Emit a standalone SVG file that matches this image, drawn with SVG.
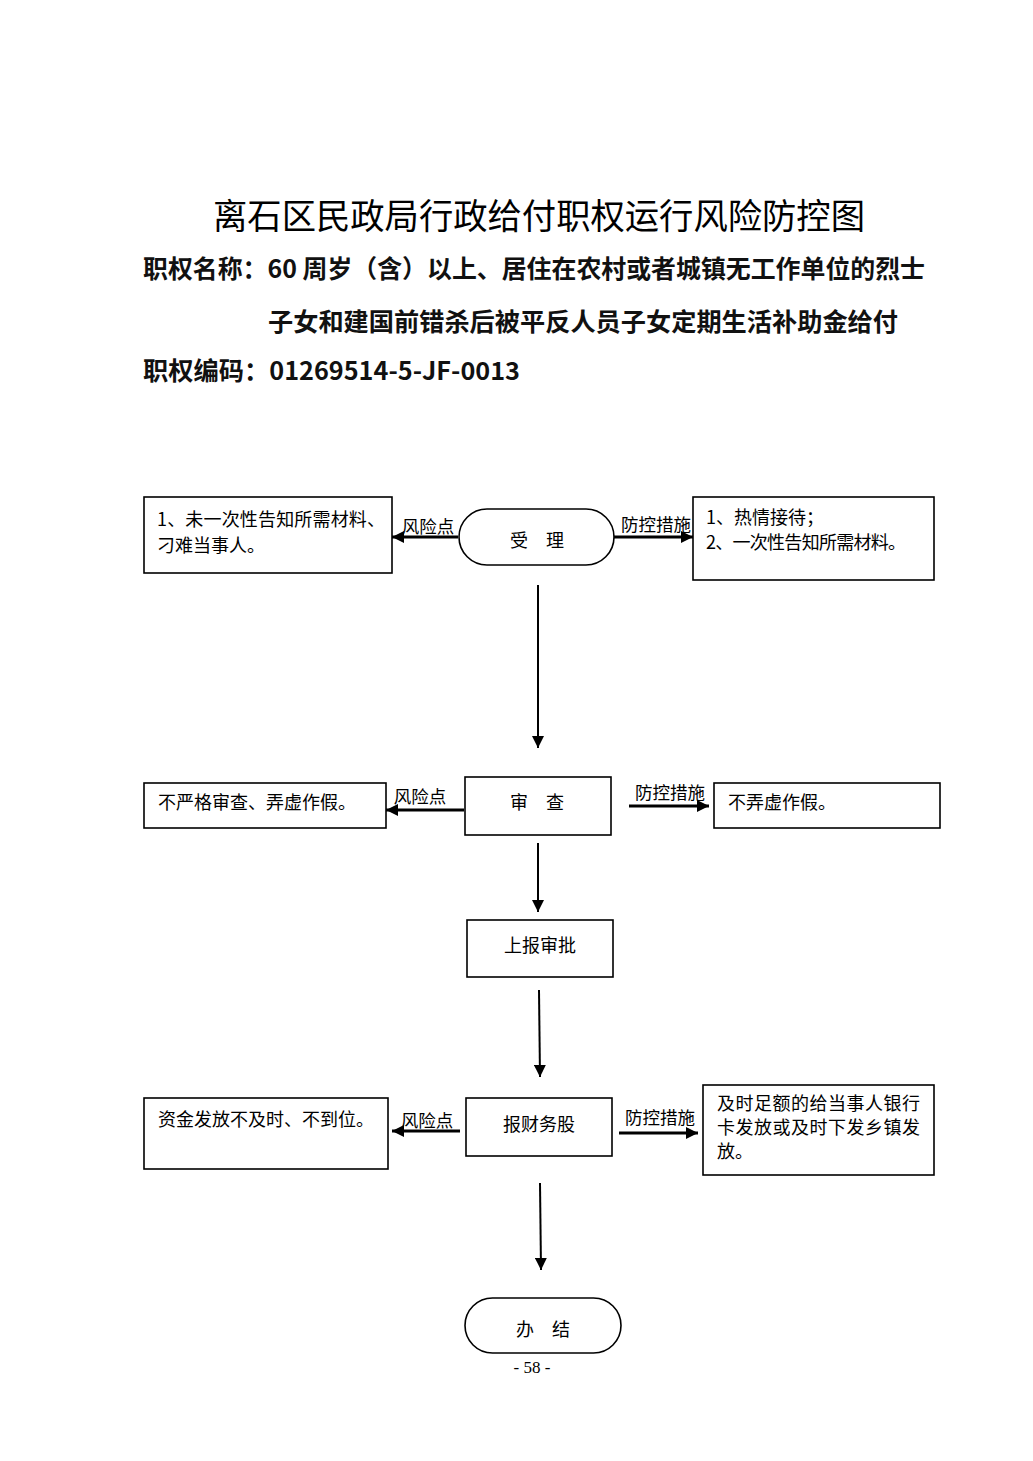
<svg xmlns="http://www.w3.org/2000/svg" width="1033" height="1461" viewBox="0 0 1033 1461">
<style>
.title{font-family:"Noto Sans CJK SC","Liberation Sans",sans-serif;font-size:35px;fill:#000}
.head{font-family:"Noto Sans CJK SC","Liberation Sans",sans-serif;font-size:25px;font-weight:bold;fill:#111}
.t{font-family:"Noto Sans CJK SC","Liberation Sans",sans-serif;font-size:18px;fill:#000}
.lbl{font-family:"Noto Sans CJK SC","Liberation Sans",sans-serif;font-size:17.5px;fill:#000}
.box{fill:#fff;stroke:#000;stroke-width:1.6}
.ln{stroke:#000;stroke-width:2;fill:none}
.hl{stroke:#000;stroke-width:3;fill:none}
.pg{font-family:"Liberation Serif",serif;font-size:17px;fill:#000}
</style>
<defs>
<marker id="ah" viewBox="0 0 10 10" refX="10" refY="5" markerWidth="6" markerHeight="6" markerUnits="strokeWidth" orient="auto">
<path d="M0,0 L10,5 L0,10 z" fill="#000"/>
</marker>
<marker id="ahs" viewBox="0 0 10 10" refX="10" refY="5" markerWidth="4" markerHeight="4" markerUnits="strokeWidth" orient="auto">
<path d="M0,0 L10,5 L0,10 z" fill="#000"/>
</marker>
</defs>
<rect width="1033" height="1461" fill="#fff"/>

<g id="header">
<text class="title" x="539" y="229" text-anchor="middle" textLength="652" lengthAdjust="spacingAndGlyphs">离石区民政局行政给付职权运行风险防控图</text>
<text class="head" x="143" y="278" textLength="782" lengthAdjust="spacingAndGlyphs">职权名称：60 周岁（含）以上、居住在农村或者城镇无工作单位的烈士</text>
<text class="head" x="268" y="331" textLength="630" lengthAdjust="spacingAndGlyphs">子女和建国前错杀后被平反人员子女定期生活补助金给付</text>
<text class="head" x="143" y="380" textLength="377" lengthAdjust="spacingAndGlyphs">职权编码：01269514-5-JF-0013</text>
</g>

<g id="connectors">
<line class="ln" x1="538" y1="585" x2="538" y2="748" marker-end="url(#ah)"/>
<line class="ln" x1="538" y1="843" x2="538" y2="912" marker-end="url(#ah)"/>
<line class="ln" x1="539" y1="990" x2="540" y2="1077" marker-end="url(#ah)"/>
<line class="ln" x1="540" y1="1183" x2="541" y2="1270" marker-end="url(#ah)"/>
<line class="hl" x1="458" y1="537" x2="392" y2="537" marker-end="url(#ahs)"/>
<line class="hl" x1="614" y1="537" x2="693" y2="537" marker-end="url(#ahs)"/>
<line class="hl" x1="464" y1="810" x2="386" y2="810" marker-end="url(#ahs)"/>
<line class="hl" x1="629" y1="806" x2="709" y2="806" marker-end="url(#ahs)"/>
<line class="hl" x1="460" y1="1131" x2="392" y2="1131" marker-end="url(#ahs)"/>
<line class="hl" x1="619" y1="1133" x2="698" y2="1133" marker-end="url(#ahs)"/>
<text class="lbl" x="428" y="533" text-anchor="middle">风险点</text>
<text class="lbl" x="656" y="531" text-anchor="middle">防控措施</text>
<text class="lbl" x="420" y="803" text-anchor="middle">风险点</text>
<text class="lbl" x="670" y="799" text-anchor="middle">防控措施</text>
<text class="lbl" x="427" y="1127" text-anchor="middle">风险点</text>
<text class="lbl" x="660" y="1124" text-anchor="middle">防控措施</text>
</g>

<g id="n_accept">
<rect class="box" x="459" y="509" width="155" height="56" rx="28" ry="28"/>
<text class="t" x="537" y="547" text-anchor="middle">受　理</text>
</g>
<g id="n_risk1">
<rect class="box" x="144" y="497" width="248" height="76"/>
<text class="t" x="157" y="526" textLength="228" lengthAdjust="spacing">1、未一次性告知所需材料、</text>
<text class="t" x="157" y="552">刁难当事人。</text>
</g>
<g id="n_ctrl1">
<rect class="box" x="693" y="497" width="241" height="83"/>
<text class="t" x="706" y="524">1、热情接待；</text>
<text class="t" x="706" y="549" textLength="200" lengthAdjust="spacing">2、一次性告知所需材料。</text>
</g>

<g id="n_review">
<rect class="box" x="465" y="777" width="146" height="58"/>
<text class="t" x="537" y="809" text-anchor="middle">审　查</text>
</g>
<g id="n_risk2">
<rect class="box" x="144" y="783" width="242" height="45"/>
<text class="t" x="158" y="809">不严格审查、弄虚作假。</text>
</g>
<g id="n_ctrl2">
<rect class="box" x="714" y="783" width="226" height="45"/>
<text class="t" x="728" y="809">不弄虚作假。</text>
</g>

<g id="n_report">
<rect class="box" x="467" y="920" width="146" height="57"/>
<text class="t" x="540" y="952" text-anchor="middle">上报审批</text>
</g>

<g id="n_finance">
<rect class="box" x="466" y="1098" width="146" height="58"/>
<text class="t" x="539" y="1131" text-anchor="middle">报财务股</text>
</g>
<g id="n_risk3">
<rect class="box" x="144" y="1098" width="244" height="71"/>
<text class="t" x="158" y="1126">资金发放不及时、不到位。</text>
</g>
<g id="n_ctrl3">
<rect class="box" x="703" y="1085" width="231" height="90"/>
<text class="t" x="717" y="1110" textLength="203" lengthAdjust="spacing">及时足额的给当事人银行</text>
<text class="t" x="717" y="1134" textLength="203" lengthAdjust="spacing">卡发放或及时下发乡镇发</text>
<text class="t" x="717" y="1158">放。</text>
</g>

<g id="n_end">
<rect class="box" x="465" y="1298" width="156" height="55" rx="27.5" ry="27.5"/>
<text class="t" x="543" y="1336" text-anchor="middle">办　结</text>
</g>

<text class="pg" x="532" y="1373" text-anchor="middle">- 58 -</text>
</svg>
